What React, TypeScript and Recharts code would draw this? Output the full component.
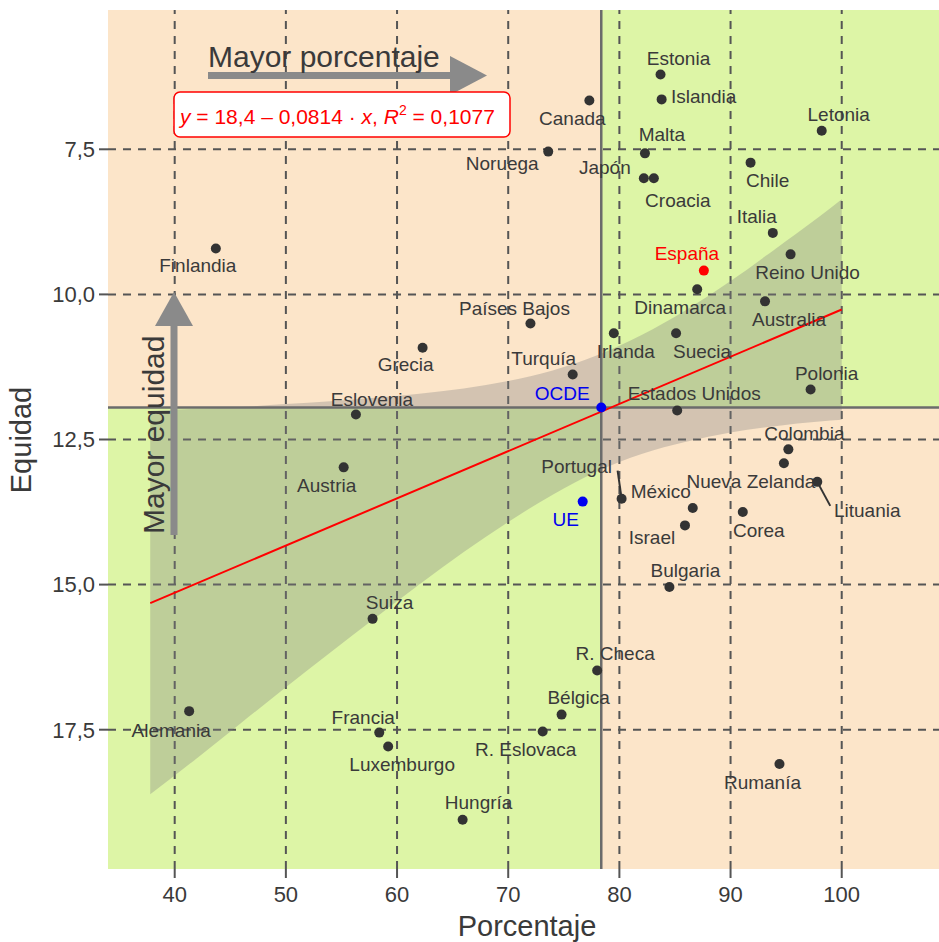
import React from 'react';
import {
  ComposedChart,
  XAxis,
  YAxis,
  Scatter,
  Line,
  Area,
  ReferenceArea,
  ReferenceLine,
} from 'recharts';

// --- data ---
const countries = [
  'Estonia', 'Islandia', 'Canada', 'Letonia', 'Noruega', 'Malta', 'Japón', 'Croacia',
  'Chile', 'Italia', 'Reino Unido', 'España', 'Dinamarca', 'Australia', 'Finlandia',
  'Países Bajos', 'Grecia', 'Irlanda', 'Suecia', 'Turquía', 'Polonia', 'Estados Unidos',
  'Eslovenia', 'Colombia', 'Nueva Zelanda', 'Lituania', 'Austria', 'Portugal', 'México',
  'Israel', 'Corea', 'Bulgaria', 'Suiza', 'R. Checa', 'Bélgica', 'R. Eslovaca', 'Rumanía',
  'Alemania', 'Francia', 'Luxemburgo', 'Hungría', 'OCDE', 'UE',
];
const porcentaje = [
  83.7, 83.8, 77.3, 98.2, 73.6, 82.3, 82.2, 83.1,
  91.8, 93.8, 95.4, 87.6, 87.0, 93.1, 43.7,
  72.0, 62.3, 79.5, 85.1, 75.8, 97.2, 85.2,
  56.3, 95.2, 94.8, 97.8, 55.2, 80.2, 86.6,
  85.9, 91.1, 84.5, 57.8, 78.0, 74.8, 73.1, 94.4,
  41.3, 58.4, 59.2, 65.9, 78.37, 76.7,
];
const equidad = [
  6.21, 6.64, 6.66, 7.18, 7.54, 7.57, 8.0, 8.0,
  7.73, 8.94, 9.31, 9.59, 9.91, 10.12, 9.21,
  10.5, 10.92, 10.67, 10.67, 11.38, 11.64, 12.0,
  12.07, 12.67, 12.91, 13.23, 12.98, 13.52, 13.68,
  13.98, 13.75, 15.04, 15.59, 16.48, 17.24, 17.53, 18.09,
  17.18, 17.55, 17.79, 19.05, 11.95, 13.57,
];

// reference means (OCDE)
const meanPct = 78.37;
const meanEq = 11.95;

// regression line end points
const regX = [37.8, 100];
const regY = [15.32, 10.26];

// confidence band (upper = smaller equidad value, axis is reversed)
const bandX = [37.8, 42, 46, 50, 54, 58, 62, 66, 70, 74, 78, 82, 86, 90, 94, 98, 100];
const bandUpper = [12.01, 11.97, 11.94, 11.89, 11.84, 11.78, 11.71, 11.62, 11.49, 11.31, 11.05, 10.7, 10.27, 9.77, 9.22, 8.66, 8.36];
const bandLower = [18.61, 17.99, 17.38, 16.77, 16.17, 15.58, 15.0, 14.44, 13.92, 13.45, 13.05, 12.75, 12.54, 12.38, 12.27, 12.19, 12.16];

const xTicks = [40, 50, 60, 70, 80, 90, 100];
const yTicks = [7.5, 10, 12.5, 15, 17.5];

const X_DOMAIN: [number, number] = [34, 108.75];
const Y_DOMAIN: [number, number] = [5.1, 19.9];

// --- layout / style ---
const FONT = '"Liberation Sans", Arial, sans-serif';
const PEACH = '#FCE5C9';
const GREEN = '#DDF5A6';
const GRID = '#555555';
const TEXT = '#3a3a3a';

const pointColors: Record<string, string> = {
  'España': '#FF0000',
  OCDE: '#0000F0',
  UE: '#0000F0',
};

// label centre relative to the point, px
const labelOffsets: Record<string, [number, number]> = {
  Estonia: [18, -16], Islandia: [42, -3], Canada: [-17, 18], Letonia: [17, -16],
  Noruega: [-46, 12], Malta: [17, -19], 'Japón': [-39, -11], Croacia: [24, 22],
  Chile: [17, 18], Italia: [-16, -16], 'Reino Unido': [17, 18], 'España': [-17, -17],
  Dinamarca: [-17, 18], Australia: [24, 18], Finlandia: [-18, 17], 'Países Bajos': [-16, -15],
  Grecia: [-17, 17], Irlanda: [12, 18], Suecia: [26, 18], 'Turquía': [-29, -16],
  Polonia: [16, -16], 'Estados Unidos': [17, -17], Eslovenia: [16, -15], Colombia: [16, -16],
  'Nueva Zelanda': [-33, 18], Lituania: [50, 29], Austria: [-17, 18], Portugal: [-45, -32],
  'México': [-32, -16], Israel: [-33, 12], Corea: [16, 18], Bulgaria: [16, -16],
  Suiza: [17, -16], 'R. Checa': [18, -17], 'Bélgica': [17, -17], 'R. Eslovaca': [-17, 18],
  'Rumanía': [-17, 19], Alemania: [-18, 19], Francia: [-16, -15], Luxemburgo: [14, 18],
  'Hungría': [16, -17], OCDE: [-39, -14], UE: [-17, 18],
};

// leader segments (end relative to point)
const leaders: Record<string, [number, number]> = {
  Portugal: [-4, -28],
  Lituania: [13, 24],
};

const points = countries.map((name, i) => ({ name, x: porcentaje[i], y: equidad[i] }));
const regData = regX.map((x, i) => ({ x, y: regY[i] }));
const bandData = bandX.map((x, i) => ({ x, range: [bandUpper[i], bandLower[i]] }));

const fmtY = (v: number) => v.toFixed(1).replace('.', ',');

const PointShape = (props: any) => {
  const { cx, cy, payload } = props;
  if (cx == null || cy == null) return <g />;
  const name = payload.name as string;
  const color = pointColors[name] || '#333333';
  const labelColor = pointColors[name] || TEXT;
  const [dx, dy] = labelOffsets[name] || [0, -16];
  const lead = leaders[name];
  return (
    <g>
      {lead && (
        <line x1={cx} y1={cy} x2={cx + lead[0]} y2={cy + lead[1]} stroke="#333" strokeWidth={2} />
      )}
      <circle cx={cx} cy={cy} r={5} fill={color} />
      <text
        x={cx + dx}
        y={cy + dy}
        textAnchor="middle"
        dominantBaseline="central"
        fontSize={19}
        fontFamily={FONT}
        fill={labelColor}
      >
        {name}
      </text>
    </g>
  );
};

const Overlay = () => (
  <svg
    width={939}
    height={942}
    style={{ position: 'absolute', left: 0, top: 0, pointerEvents: 'none' }}
    fontFamily={FONT}
  >
    {/* horizontal arrow */}
    <rect x={208} y={72} width={246} height={7} fill="#8a8a8a" />
    <polygon points="450,56 487,75.5 450,95" fill="#8a8a8a" />
    <text x={208} y={67} fontSize={30} fill={TEXT}>Mayor porcentaje</text>

    {/* vertical arrow */}
    <rect x={170.5} y={322} width={7} height={213} fill="#8a8a8a" />
    <polygon points="155,326 174,292 193,326" fill="#8a8a8a" />
    <text transform="translate(164,534) rotate(-90)" fontSize={30} fill={TEXT}>Mayor equidad</text>

    {/* equation box */}
    <rect x={174} y={92} width={336} height={45} rx={6} fill="#ffffff" stroke="#FF0000" strokeWidth={1.5} />
    <text x={180} y={124} fontSize={21} fill="#FF0000">
      <tspan fontStyle="italic">y</tspan>
      <tspan> = 18,4 – 0,0814 · </tspan>
      <tspan fontStyle="italic">x</tspan>
      <tspan>,  </tspan>
      <tspan fontStyle="italic">R</tspan>
      <tspan fontSize={14} dy={-9}>2</tspan>
      <tspan dy={9}> = 0,1077</tspan>
    </text>

    {/* axis titles */}
    <text x={527} y={936} fontSize={29} textAnchor="middle" fill={TEXT}>Porcentaje</text>
    <text transform="translate(31,440) rotate(-90)" fontSize={29} textAnchor="middle" fill={TEXT}>Equidad</text>
  </svg>
);

export default function App() {
  return (
    <div style={{ position: 'absolute', left: 0, top: 0, width: 939, height: 942, background: '#fff', fontFamily: FONT }}>
      <ComposedChart width={939} height={942} margin={{ top: 10, right: 0, bottom: 0, left: 0 }}>
        <XAxis
          type="number"
          dataKey="x"
          domain={X_DOMAIN}
          ticks={xTicks}
          allowDataOverflow
          height={73}
          axisLine={false}
          tickSize={9}
          tickMargin={8}
          tickLine={{ stroke: GRID, strokeWidth: 2 }}
          tick={{ fill: TEXT, fontSize: 22, fontFamily: FONT }}
        />
        <YAxis
          type="number"
          dataKey="y"
          domain={Y_DOMAIN}
          ticks={yTicks}
          reversed
          allowDataOverflow
          width={108}
          axisLine={false}
          tickSize={9}
          tickMargin={4}
          tickFormatter={fmtY}
          tickLine={{ stroke: GRID, strokeWidth: 2 }}
          tick={{ fill: TEXT, fontSize: 22, fontFamily: FONT }}
        />

        {/* quadrant backgrounds */}
        <ReferenceArea x1={X_DOMAIN[0]} x2={meanPct} y1={Y_DOMAIN[0]} y2={meanEq} fill={PEACH} fillOpacity={1} stroke="none" zIndex={-300} />
        <ReferenceArea x1={meanPct} x2={X_DOMAIN[1]} y1={Y_DOMAIN[0]} y2={meanEq} fill={GREEN} fillOpacity={1} stroke="none" zIndex={-300} />
        <ReferenceArea x1={X_DOMAIN[0]} x2={meanPct} y1={meanEq} y2={Y_DOMAIN[1]} fill={GREEN} fillOpacity={1} stroke="none" zIndex={-300} />
        <ReferenceArea x1={meanPct} x2={X_DOMAIN[1]} y1={meanEq} y2={Y_DOMAIN[1]} fill={PEACH} fillOpacity={1} stroke="none" zIndex={-300} />

        {/* dashed grid */}
        {xTicks.map((v) => (
          <ReferenceLine key={'gx' + v} x={v} stroke={GRID} strokeWidth={2} strokeDasharray="8 7" zIndex={-200} />
        ))}
        {yTicks.map((v) => (
          <ReferenceLine key={'gy' + v} y={v} stroke={GRID} strokeWidth={2} strokeDasharray="8 7" zIndex={-200} />
        ))}

        <Area
          data={bandData}
          dataKey="range"
          type="monotone"
          stroke="none"
          fill="#7f7f7f"
          fillOpacity={0.33}
          isAnimationActive={false}
          zIndex={-100}
        />

        <ReferenceLine x={meanPct} stroke="#6b6b6b" strokeWidth={2.5} zIndex={-50} />
        <ReferenceLine y={meanEq} stroke="#6b6b6b" strokeWidth={2.5} zIndex={-50} />

        <Line
          data={regData}
          dataKey="y"
          stroke="#FF0000"
          strokeWidth={2}
          dot={false}
          isAnimationActive={false}
        />

        <Scatter data={points} shape={PointShape} isAnimationActive={false} />
      </ComposedChart>
      <Overlay />
    </div>
  );
}
